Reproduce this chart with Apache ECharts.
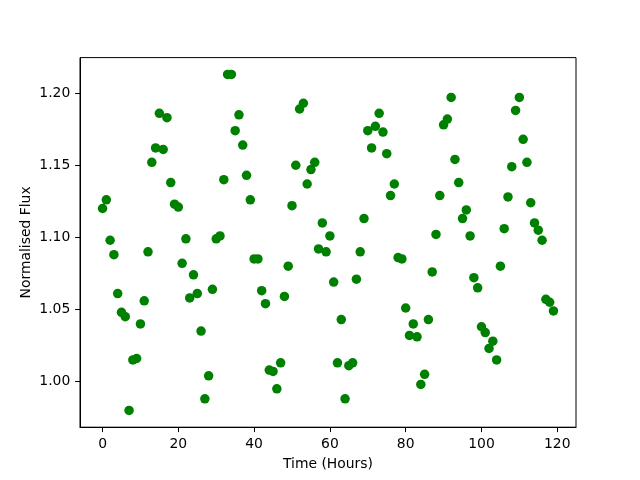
<!DOCTYPE html>
<html>
<head>
<meta charset="utf-8">
<script src="https://cdn.jsdelivr.net/npm/echarts@6/dist/echarts.min.js"></script>
<style>html,body{margin:0;padding:0;background:#fff;}#c{width:640px;height:480px;}</style>
</head>
<body>
<div id="c"></div>
<script>
const hours = [];
for (let h = 0; h < 120; h++) hours.push(h);
const flux = [
1.120,1.126,1.098,1.088,1.061,1.048,1.045,0.980,1.015,1.016,
1.040,1.056,1.090,1.152,1.162,1.186,1.161,1.183,1.138,1.123,
1.121,1.082,1.099,1.058,1.074,1.061,1.035,0.988,1.004,1.064,
1.099,1.101,1.140,1.213,1.213,1.174,1.185,1.164,1.143,1.126,
1.085,1.085,1.063,1.054,1.008,1.007,0.995,1.013,1.059,1.080,
1.122,1.150,1.189,1.193,1.137,1.147,1.152,1.092,1.110,1.090,
1.101,1.069,1.013,1.043,0.988,1.011,1.013,1.071,1.090,1.113,
1.174,1.162,1.177,1.186,1.173,1.158,1.129,1.137,1.086,1.085,
1.051,1.032,1.040,1.031,0.998,1.005,1.043,1.076,1.102,1.129,
1.178,1.182,1.197,1.154,1.138,1.113,1.119,1.101,1.072,1.065,
1.038,1.034,1.023,1.028,1.015,1.080,1.106,1.128,1.149,1.188,
1.197,1.168,1.152,1.124,1.110,1.105,1.098,1.057,1.055,1.049
];
const xTicks = [0, 20, 40, 60, 80, 100, 120];
const yTicks = [1.00, 1.05, 1.10, 1.15, 1.20];

const xMin = -5.95, xMax = 124.95;
const yLo = Math.min(...flux), yHi = Math.max(...flux), yPad = (yHi - yLo) * 0.05;

const chart = echarts.init(document.getElementById('c'), null, {renderer: 'canvas'});
const font = 'DejaVu Sans';
chart.setOption({
  backgroundColor: '#ffffff',
  animation: false,
  grid: {left: 80, right: 64, top: 57.6, bottom: 52.8, show: true, borderColor: '#000', borderWidth: 1, backgroundColor: 'transparent'},
  xAxis: {
    type: 'value', min: xMin, max: xMax,
    name: 'Time (Hours)', nameLocation: 'middle', nameGap: 30, nameMoveOverlap: false,
    nameTextStyle: {fontFamily: font, fontSize: 13.9, color: '#000'},
    axisLine: {show: true, onZero: false, lineStyle: {color: '#000', width: 1}},
    axisTick: {show: true, length: 4.9, lineStyle: {color: '#000', width: 1}, customValues: xTicks},
    axisLabel: {margin: 10, fontFamily: font, fontSize: 13.9, color: '#000', customValues: xTicks, formatter: v => String(Math.round(v))},
    splitLine: {show: false}
  },
  yAxis: {
    type: 'value', min: yLo - yPad, max: yHi + yPad,
    name: 'Normalised Flux', nameLocation: 'middle', nameGap: 47, nameMoveOverlap: false,
    nameTextStyle: {fontFamily: font, fontSize: 13.9, color: '#000'},
    axisLine: {show: true, onZero: false, lineStyle: {color: '#000', width: 1}},
    axisTick: {show: true, length: 4.9, lineStyle: {color: '#000', width: 1}, customValues: yTicks},
    axisLabel: {margin: 9.7, fontFamily: font, fontSize: 13.9, color: '#000', customValues: yTicks, formatter: v => v.toFixed(2)},
    splitLine: {show: false}
  },
  series: [{
    type: 'scatter',
    data: hours.map((h, i) => [h, flux[i]]),
    symbol: 'circle', symbolSize: 9.5,
    itemStyle: {color: '#008000', opacity: 1}
  }]
});
</script>
</body>
</html>
